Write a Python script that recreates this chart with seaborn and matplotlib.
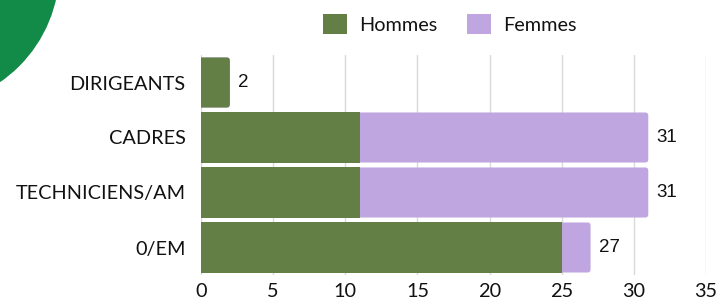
import matplotlib
matplotlib.use("Agg")
import matplotlib.pyplot as plt
import seaborn as sns
import pandas as pd
from matplotlib.patches import Patch, Ellipse, FancyBboxPatch

categories = ["DIRIGEANTS", "CADRES", "TECHNICIENS/AM", "0/EM"]
hommes = [2, 11, 11, 25]
femmes = [0, 20, 20, 2]
totals = [h + f for h, f in zip(hommes, femmes)]
xticks = [0, 5, 10, 15, 20, 25, 30, 35]

C_H = "#637f45"
C_F = "#c0a6e0"
C_CIRCLE = "#138b48"

sns.set_theme(style="white")
plt.rcParams["font.family"] = ["Lato", "DejaVu Sans"]

df = pd.DataFrame({"cat": categories, "hommes": hommes, "femmes": femmes, "total": totals})

fig = plt.figure(figsize=(7.21, 3.0), dpi=100)
ax = fig.add_axes([201 / 721, 1 - 275 / 300, 505 / 721, 220 / 300])

sns.barplot(data=df, x="total", y="cat", orient="h", color=C_F, width=0.91,
            saturation=1, ax=ax, zorder=2, linewidth=0, edgecolor="none")
n1 = len(ax.patches)
sns.barplot(data=df, x="hommes", y="cat", orient="h", color=C_H, width=0.91,
            saturation=1, ax=ax, zorder=3, linewidth=0, edgecolor="none")

ax.set_xlim(0, 35)
ax.set_ylim(3.5, -0.5)

# rounded right ends
px_per_x = 505 / 35
px_per_y = 220 / 4
rad = 0.22
patches = list(ax.patches)
for i, p in enumerate(patches):
    idx = i % n1
    is_total_layer = i < n1
    if is_total_layer or hommes[idx] == totals[idx]:
        x0, y0 = p.get_x(), p.get_y()
        w, h = p.get_width(), p.get_height()
        if w <= 0:
            continue
        fb = FancyBboxPatch((x0 - rad, y0), w + rad, h,
                            boxstyle=f"round,pad=0,rounding_size={rad}",
                            mutation_aspect=px_per_x / px_per_y,
                            facecolor=p.get_facecolor(), edgecolor="none",
                            linewidth=0, zorder=p.get_zorder(), clip_on=True)
        ax.add_patch(fb)
        p.set_visible(False)

# value labels
for yi, t in enumerate(totals):
    ax.text(t + 0.55, yi, str(t), va="center", ha="left",
            fontsize=13.5, family=["Liberation Sans", "DejaVu Sans"],
            color="#111111", zorder=5)

ax.set_xticks(xticks)
ax.set_xticklabels([str(v) for v in xticks])
ax.xaxis.grid(True, color="#d9d9d9", linewidth=1.0, zorder=0)
ax.set_axisbelow(True)
for s in ax.spines.values():
    s.set_visible(False)
ax.tick_params(axis="x", length=0, pad=6, labelsize=14.3, labelcolor="#111111")
ax.tick_params(axis="y", length=0, pad=11, labelsize=14.3, labelcolor="#111111")
ax.set_xlabel("")
ax.set_ylabel("")

handles = [Patch(facecolor=C_H, edgecolor="none", label="Hommes"),
           Patch(facecolor=C_F, edgecolor="none", label="Femmes")]
fig.legend(handles=handles, loc="center", bbox_to_anchor=(450 / 721, 1 - 24 / 300),
           ncol=2, frameon=False, fontsize=14.3, handlelength=1.2, handleheight=1.2,
           handletextpad=0.6, columnspacing=1.5, labelcolor="#111111")

fig.add_artist(Ellipse((-78 / 721, 331 / 300), width=2 * 137.5 / 721,
                       height=2 * 137.5 / 300, transform=fig.transFigure,
                       facecolor=C_CIRCLE, edgecolor="none"))

fig.savefig("out.png", dpi=100)
